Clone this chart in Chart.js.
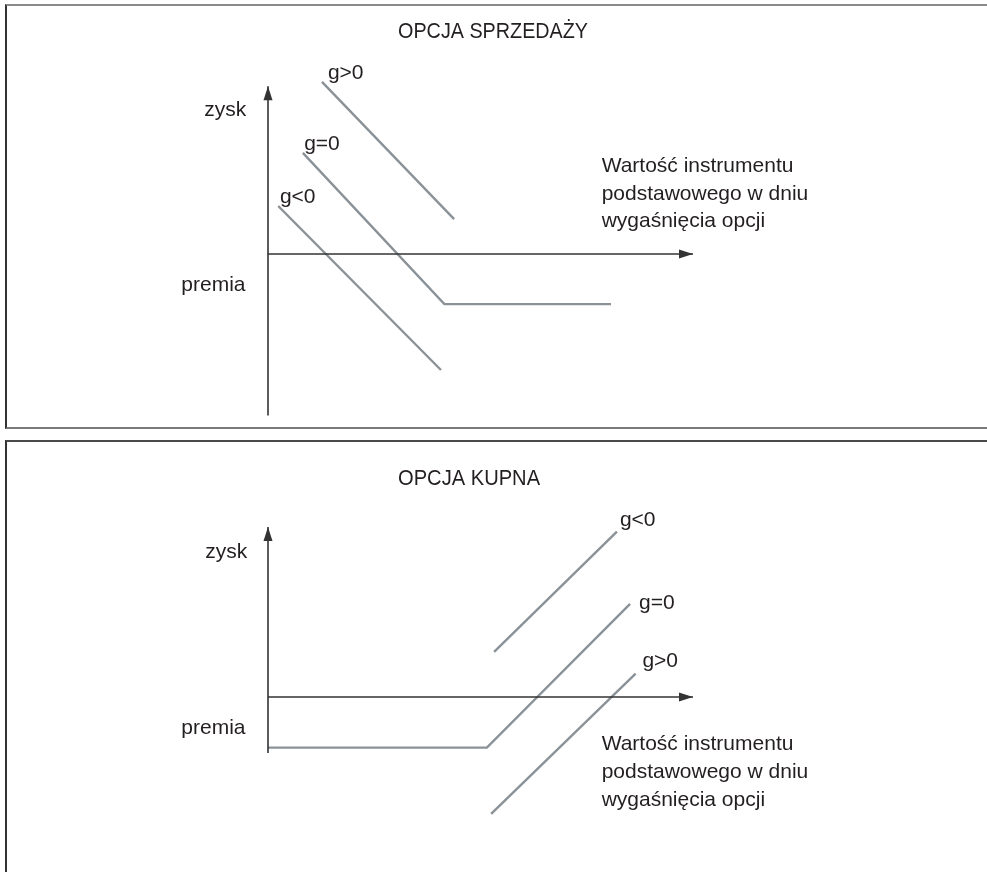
<!DOCTYPE html>
<html>
<head>
<meta charset="utf-8">
<script src="https://cdn.jsdelivr.net/npm/chart.js@4/dist/chart.umd.min.js"></script>
<style>
  body { margin: 0; background: #fff; width: 987px; height: 872px; overflow: hidden; position: relative; }
  .panel { position: absolute; left: 5px; box-sizing: border-box; }
  #box1 { top: 4px; width: 990px; height: 425px; border-top: 2px solid #8a8a8a; border-left: 2px solid #333; border-bottom: 2px solid #7a7a7a; }
  #box2 { top: 440px; width: 990px; height: 440px; border-top: 2px solid #4a4a4a; border-left: 2px solid #333; }
  canvas { position: absolute; left: 0; }
  #putChart { top: 0; }
  #callChart { top: 436px; }
</style>
</head>
<body>
<div class="panel" id="box1"></div>
<div class="panel" id="box2"></div>
<canvas id="putChart" width="987" height="430"></canvas>
<canvas id="callChart" width="987" height="436"></canvas>
<script>
// OPCJA SPRZEDAŻY (put) - lines, axis origin = (0,0)
const putGPos  = [{x: 12.7, y: 40.5}, {x: 43.8, y: 8.2}];
const putGZero = [{x: 8.2, y: 23.8}, {x: 41.5, y: -11.8}, {x: 80.7, y: -11.8}];
const putGNeg  = [{x: 2.4, y: 11.3}, {x: 40.7, y: -27.3}];
const putXAxis = [{x: 0, y: 0}, {x: 100, y: 0}];
const putYAxis = [{x: 0, y: -38}, {x: 0, y: 39.5}];

// OPCJA KUPNA (call)
const callGNeg  = [{x: 53.2, y: 10.6}, {x: 82.1, y: 38.9}];
const callGZero = [{x: 0, y: -11.9}, {x: 51.5, y: -11.9}, {x: 85.2, y: 21.9}];
const callGPos  = [{x: 52.5, y: -27.5}, {x: 86.5, y: 5.5}];
const callXAxis = [{x: 0, y: 0}, {x: 100, y: 0}];
const callYAxis = [{x: 0, y: -13.2}, {x: 0, y: 40}];

// texts
const titles = ['OPCJA SPRZEDAŻY', 'OPCJA KUPNA'];
const axisNames = ['zysk', 'premia'];
const xAxisNote = ['Wartość instrumentu', 'podstawowego w dniu', 'wygaśnięcia opcji'];
const putLineNames = ['g>0', 'g=0', 'g<0'];
const callLineNames = ['g<0', 'g=0', 'g>0'];

const LINE = '#8b9297';
const AXIS = '#333333';
const TEXT = '#231f20';
const FONT = '"Liberation Sans", Arial, sans-serif';
const UNIT = 4.25; // px per data unit

function line(data, color, width) {
  return {
    data: data,
    showLine: true,
    borderColor: color,
    borderWidth: width,
    pointRadius: 0,
    borderCapStyle: 'butt',
    borderJoinStyle: 'miter',
    tension: 0
  };
}

function arrow(ctx, x, y, dir) {
  const len = 14, half = 4.5;
  ctx.beginPath();
  if (dir === 'right') {
    ctx.moveTo(x, y);
    ctx.lineTo(x - len, y - half);
    ctx.lineTo(x - len, y + half);
  } else {
    ctx.moveTo(x, y);
    ctx.lineTo(x - half, y + len);
    ctx.lineTo(x + half, y + len);
  }
  ctx.closePath();
  ctx.fillStyle = AXIS;
  ctx.fill();
}

function makePanel(id, originX, originY, datasets, xAxis, yAxis, notes) {
  const canvas = document.getElementById(id);
  const w = canvas.width, h = canvas.height;
  const xmin = -originX / UNIT, ymax = originY / UNIT;

  const labelsPlugin = {
    id: 'labels',
    afterDatasetsDraw(chart) {
      const ctx = chart.ctx;
      const sx = chart.scales.x, sy = chart.scales.y;
      const px = v => sx.getPixelForValue(v);
      const py = v => sy.getPixelForValue(v);
      ctx.save();
      // arrow heads at the axis ends
      const xe = xAxis[xAxis.length - 1], ye = yAxis[yAxis.length - 1];
      arrow(ctx, px(xe.x), py(xe.y), 'right');
      arrow(ctx, px(ye.x), py(ye.y), 'up');

      ctx.fillStyle = TEXT;
      ctx.textBaseline = 'middle';
      notes.forEach(n => {
        ctx.font = (n.size || 21) + 'px ' + FONT;
        ctx.textAlign = n.align || 'left';
        if (n.maxWidth) ctx.fillText(n.text, px(n.x), py(n.y), n.maxWidth);
        else ctx.fillText(n.text, px(n.x), py(n.y));
      });
      ctx.restore();
    }
  };

  return new Chart(canvas, {
    type: 'scatter',
    data: { datasets: datasets },
    options: {
      responsive: false,
      animation: false,
      events: [],
      layout: { padding: 0, autoPadding: false },
      plugins: { legend: { display: false }, tooltip: { enabled: false } },
      scales: {
        x: { type: 'linear', display: false, min: xmin, max: xmin + w / UNIT },
        y: { type: 'linear', display: false, min: ymax - h / UNIT, max: ymax }
      }
    },
    plugins: [labelsPlugin]
  });
}

makePanel('putChart', 268, 254, [
  line(putXAxis, AXIS, 1.6),
  line(putYAxis, AXIS, 1.6),
  line(putGPos, LINE, 2.4),
  line(putGZero, LINE, 2.4),
  line(putGNeg, LINE, 2.4)
], putXAxis, putYAxis, [
  { text: titles[0], x: 30.6, y: 52.2, size: 22, maxWidth: 190 },
  { text: axisNames[0], x: -5.1, y: 33.9, align: 'right' },
  { text: axisNames[1], x: -5.3, y: -7.4, align: 'right' },
  { text: putLineNames[0], x: 14.1, y: 42.5 },
  { text: putLineNames[1], x: 8.5, y: 25.9 },
  { text: putLineNames[2], x: 2.8, y: 13.4 },
  { text: xAxisNote[0], x: 78.5, y: 20.6 },
  { text: xAxisNote[1], x: 78.5, y: 14.0 },
  { text: xAxisNote[2], x: 78.5, y: 7.6 }
]);

makePanel('callChart', 268, 261, [
  line(callXAxis, AXIS, 1.6),
  line(callYAxis, AXIS, 1.6),
  line(callGNeg, LINE, 2.4),
  line(callGZero, LINE, 2.4),
  line(callGPos, LINE, 2.4)
], callXAxis, callYAxis, [
  { text: titles[1], x: 30.6, y: 51.3, size: 22, maxWidth: 142 },
  { text: axisNames[0], x: -4.9, y: 34.1, align: 'right' },
  { text: axisNames[1], x: -5.3, y: -7.3, align: 'right' },
  { text: callLineNames[0], x: 82.8, y: 41.6 },
  { text: callLineNames[1], x: 87.3, y: 22.0 },
  { text: callLineNames[2], x: 88.1, y: 8.5 },
  { text: xAxisNote[0], x: 78.5, y: -11.2 },
  { text: xAxisNote[1], x: 78.5, y: -17.8 },
  { text: xAxisNote[2], x: 78.5, y: -24.2 }
]);
</script>
</body>
</html>
